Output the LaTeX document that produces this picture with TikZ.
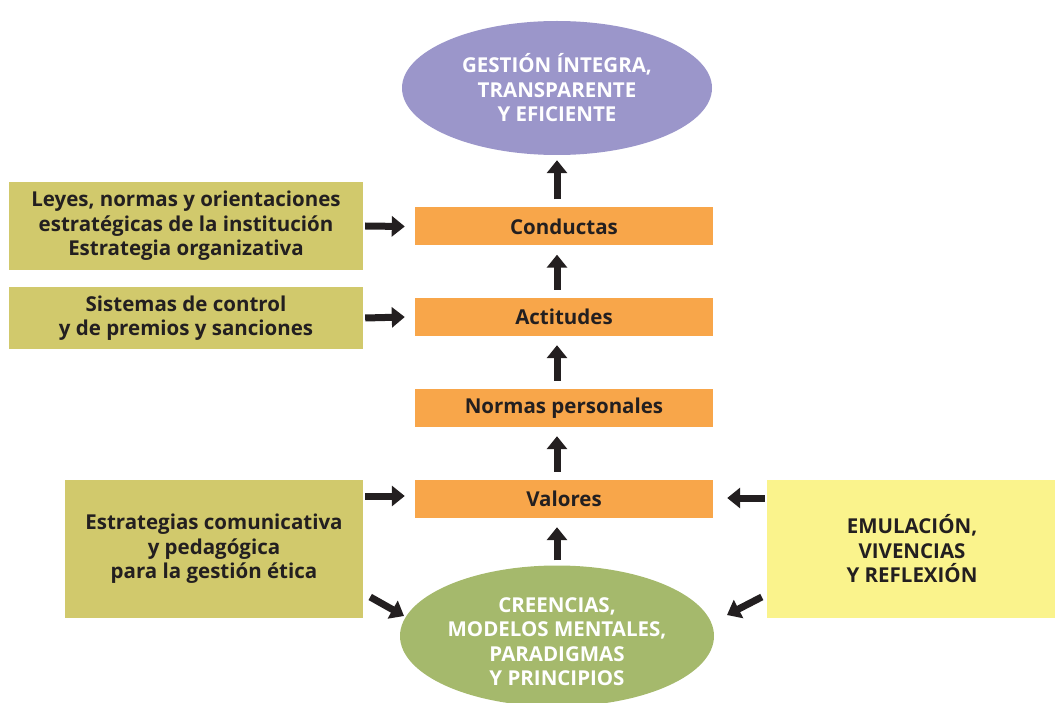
\documentclass[tikz,border=0pt]{standalone}
\usepackage{fontspec}
\setmainfont{Open Sans}
\usetikzlibrary{shapes.geometric,arrows.meta}
\definecolor{purp}{HTML}{9B96CA}
\definecolor{orng}{HTML}{F8A64A}
\definecolor{olive}{HTML}{D1C96C}
\definecolor{yell}{HTML}{FAF38C}
\definecolor{grn}{HTML}{A5B96C}
\definecolor{ink}{HTML}{231F20}
\begin{document}
\begin{tikzpicture}[x=1pt,y=-1pt,
  txt/.style={font=\bfseries\fontsize{20.5}{24.5}\selectfont,align=center,text=ink},
  obox/.style={txt,fill=orng,minimum width=298pt,minimum height=38pt,inner sep=0pt},
  sbox/.style={txt,fill=olive,inner sep=0pt},
  ell/.style={ellipse,inner sep=0pt,font=\bfseries\fontsize{20.5}{24.5}\selectfont,align=center,text=white},
  arr/.style={draw=ink,line width=7pt,-{Triangle[width=20pt,length=13pt]}}]
\useasboundingbox (0,0) rectangle (1055,703);
\node[ell,fill=purp,minimum width=310pt,minimum height=134pt] (top) at (557,88) {GESTIÓN ÍNTEGRA,\\TRANSPARENTE\\Y EFICIENTE};
\node[obox] (cond) at (564,226.5) {Conductas};
\node[obox] (act) at (564,317) {Actitudes};
\node[obox] (norm) at (564,408) {Normas personales};
\node[obox] (val) at (564,499) {Valores};
\node[ell,fill=grn,minimum width=314pt,minimum height=132pt] (bot) at (557,636) {\rule{0pt}{26pt}CREENCIAS,\\MODELOS MENTALES,\\PARADIGMAS\\Y PRINCIPIOS};
\node[sbox,minimum width=354pt,minimum height=88pt] (leyes) at (186,226) {Leyes, normas y orientaciones\\estratégicas de la institución\\Estrategia organizativa};
\node[sbox,minimum width=354pt,minimum height=62pt] (sist) at (186,318) {Sistemas de control\\y de premios y sanciones};
\node[sbox,minimum width=298pt,minimum height=138pt] (estr) at (214,549) {Estrategias comunicativa\\y pedagógica\\para la gestión ética};
\node[txt,fill=yell,minimum width=290pt,minimum height=138pt,inner sep=0pt] (emul) at (912,549) {EMULACIÓN,\\VIVENCIAS\\Y REFLEXIÓN};
\draw[arr] ([xshift=-7pt,yshift=8pt]cond.north) -- ([yshift=-5pt]top.south);
\draw[arr] ([xshift=-7pt,yshift=8pt]act.north) -- ([xshift=-7pt,yshift=-9pt]cond.south);
\draw[arr] ([xshift=-7pt,yshift=8pt]norm.north) -- ([xshift=-7pt,yshift=-9pt]act.south);
\draw[arr] ([xshift=-7pt,yshift=8pt]val.north) -- ([xshift=-7pt,yshift=-9pt]norm.south);
\draw[arr] ([yshift=5pt]bot.north) -- ([xshift=-7pt,yshift=-9pt]val.south);
\draw[arr] ([xshift=2pt]leyes.east) -- ([xshift=-10pt]cond.west);
\draw[arr] ([xshift=2pt]sist.east) -- ([xshift=-10pt]act.west);
\draw[arr] ([xshift=2pt,yshift=53pt]estr.east) -- ([xshift=-10pt,yshift=3pt]val.west);
\draw[arr] ([xshift=-2pt,yshift=51pt]emul.west) -- ([xshift=14pt,yshift=1pt]val.east);
\coordinate (bl) at (404,616);
\coordinate (br) at (727,615);
\draw[arr] ([xshift=7pt,yshift=-48pt]estr.east) -- (bl);
\draw[arr] ([xshift=-5pt,yshift=-48pt]emul.west) -- (br);
\end{tikzpicture}
\end{document}
